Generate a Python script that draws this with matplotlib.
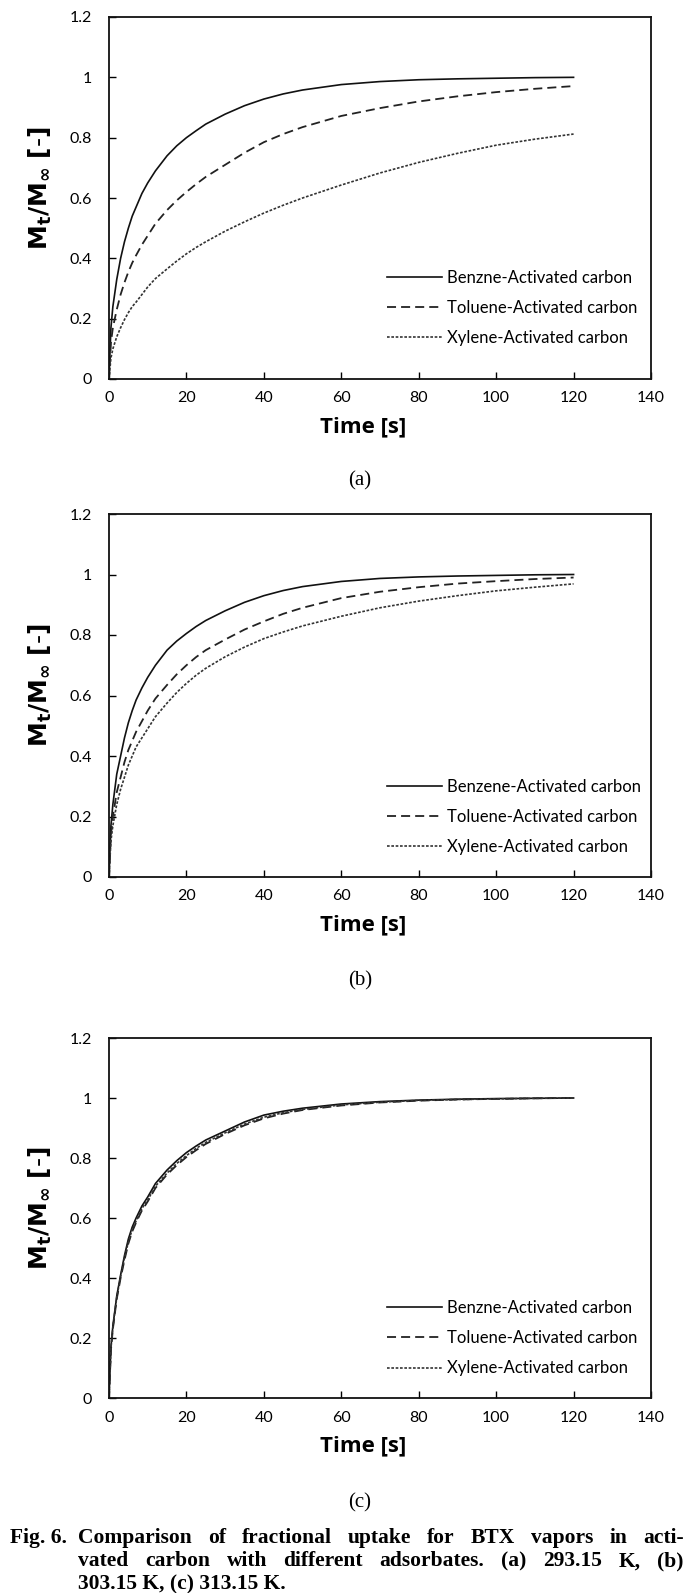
import matplotlib
matplotlib.use("Agg")
import matplotlib.pyplot as plt
from matplotlib import font_manager as fm

W, H = 694, 1593

# ---------------- data ----------------
time_s = [0, 0.5, 1, 2, 3, 4, 5, 6, 7, 8.5, 10, 12, 15, 17.5, 20, 22.5, 25, 30, 35, 40,
          45, 50, 60, 70, 80, 90, 100, 110, 120]

benzene_a = [0, 0.17, 0.24, 0.33, 0.40, 0.455, 0.50, 0.54, 0.57, 0.615, 0.65, 0.69, 0.74, 0.773,
             0.80, 0.823, 0.845, 0.878, 0.906, 0.928, 0.945, 0.958, 0.976, 0.986, 0.992, 0.995,
             0.997, 0.999, 1.0]
toluene_a = [0, 0.12, 0.17, 0.23, 0.28, 0.32, 0.355, 0.385, 0.41, 0.445, 0.475, 0.515, 0.56, 0.592,
             0.62, 0.646, 0.67, 0.71, 0.75, 0.785, 0.812, 0.835, 0.872, 0.898, 0.92, 0.937,
             0.951, 0.962, 0.971]
xylene_a = [0, 0.07, 0.10, 0.14, 0.17, 0.197, 0.22, 0.24, 0.255, 0.28, 0.305, 0.333, 0.365, 0.391,
            0.415, 0.436, 0.455, 0.49, 0.521, 0.55, 0.576, 0.60, 0.643, 0.683, 0.718, 0.748,
            0.775, 0.795, 0.812]

benzene_b = [0, 0.17, 0.24, 0.34, 0.40, 0.46, 0.51, 0.55, 0.585, 0.625, 0.66, 0.70, 0.75, 0.78,
             0.805, 0.828, 0.848, 0.88, 0.908, 0.93, 0.947, 0.96, 0.977, 0.987, 0.992, 0.995,
             0.997, 0.999, 1.0]
toluene_b = [0, 0.14, 0.20, 0.28, 0.33, 0.38, 0.42, 0.45, 0.48, 0.515, 0.55, 0.59, 0.635, 0.67,
             0.70, 0.727, 0.75, 0.785, 0.818, 0.845, 0.87, 0.89, 0.922, 0.943, 0.958, 0.97,
             0.978, 0.985, 0.99]
xylene_b = [0, 0.12, 0.17, 0.24, 0.29, 0.33, 0.37, 0.40, 0.43, 0.46, 0.49, 0.53, 0.575, 0.61,
            0.64, 0.667, 0.69, 0.728, 0.76, 0.788, 0.81, 0.83, 0.862, 0.89, 0.912, 0.93,
            0.946, 0.958, 0.969]

benzene_c = [0, 0.17, 0.24, 0.34, 0.41, 0.475, 0.53, 0.57, 0.60, 0.64, 0.67, 0.715, 0.76, 0.791,
             0.818, 0.84, 0.86, 0.89, 0.92, 0.943, 0.956, 0.966, 0.98, 0.988, 0.993, 0.996,
             0.998, 0.999, 1.0]
toluene_c = [0, 0.16, 0.23, 0.33, 0.40, 0.46, 0.515, 0.555, 0.585, 0.625, 0.655, 0.70, 0.745, 0.776,
             0.803, 0.826, 0.847, 0.88, 0.909, 0.932, 0.948, 0.96, 0.975, 0.985, 0.991, 0.995,
             0.997, 0.999, 1.0]
xylene_c = [0, 0.165, 0.235, 0.335, 0.405, 0.467, 0.52, 0.562, 0.59, 0.632, 0.66, 0.706, 0.75, 0.782,
            0.808, 0.832, 0.852, 0.884, 0.913, 0.936, 0.951, 0.962, 0.977, 0.986, 0.992, 0.995,
            0.997, 0.999, 1.0]

labels_a = ["Benzne-Activated carbon", "Toluene-Activated carbon", "Xylene-Activated carbon"]
labels_b = ["Benzene-Activated carbon", "Toluene-Activated carbon", "Xylene-Activated carbon"]
labels_c = ["Benzne-Activated carbon", "Toluene-Activated carbon", "Xylene-Activated carbon"]

x_ticks = [0, 20, 40, 60, 80, 100, 120, 140]
y_ticks = [0, 0.2, 0.4, 0.6, 0.8, 1.0, 1.2]
y_tick_labels = ["0", "0.2", "0.4", "0.6", "0.8", "1", "1.2"]
panel_tags = ["(a)", "(b)", "(c)"]

caption_head = "Fig. 6."
caption_lines = [
    "Comparison of fractional uptake for BTX vapors in acti-",
    "vated carbon with different adsorbates. (a) 293.15 K, (b)",
    "303.15 K, (c) 313.15 K.",
]


# ---------------- fonts ----------------
def pick(cands):
    for c in cands:
        try:
            fm.findfont(fm.FontProperties(family=c), fallback_to_default=False)
            return c
        except Exception:
            pass
    return "DejaVu Sans"

narrow = pick(["Lato", "Open Sans", "Liberation Sans"])
boldsans = pick(["Open Sans", "Lato", "DejaVu Sans"])
serif = pick(["Liberation Serif", "DejaVu Serif"])
plt.rcParams["mathtext.fontset"] = "dejavusans"

fig = plt.figure(figsize=(W / 100, H / 100), dpi=100)


def fx(px):
    return px / W


def fy(py):
    return 1 - py / H


# axes pixel boxes (left, top, right, bottom)
boxes = [(109, 17, 651, 379), (109, 514, 651, 877), (109, 1038, 651, 1398)]
series = [
    (benzene_a, toluene_a, xylene_a, labels_a),
    (benzene_b, toluene_b, xylene_b, labels_b),
    (benzene_c, toluene_c, xylene_c, labels_c),
]
legend_y = [0.196, 0.166, 0.166]
tag_y = [481, 981, 1503]

styles = [
    dict(color="#111111", lw=1.2, linestyle="-"),
    dict(color="#222222", lw=1.3, linestyle=(0, (5, 2.8))),
    dict(color="#333333", lw=1.2, linestyle=(0, (1.6, 1.0))),
]

for i, ((l, t, r, b), (s1, s2, s3, labs)) in enumerate(zip(boxes, series)):
    ax = fig.add_axes([fx(l), fy(b), fx(r - l), (b - t) / H])
    handles = []
    for data, st, lab in zip((s1, s2, s3), styles, labs):
        h, = ax.plot(time_s, data, label=lab, **st)
        handles.append(h)
    ax.set_xlim(0, 140)
    ax.set_ylim(0, 1.2)
    ax.set_xticks(x_ticks)
    ax.set_yticks(y_ticks)
    ax.set_yticklabels(y_tick_labels)
    ax.tick_params(direction="in", length=5, width=1.0, labelsize=11.5)
    ax.tick_params(axis="y", pad=12)
    ax.tick_params(axis="x", pad=9)
    for lab in ax.get_xticklabels() + ax.get_yticklabels():
        lab.set_family(narrow)
    for sp in ax.spines.values():
        sp.set_linewidth(1.3)
        sp.set_color("#111111")
    ax.set_xlabel("Time [s]", fontsize=16, fontweight="bold", family=boldsans)
    ax.xaxis.set_label_coords(0.469, -0.104)
    ax.set_ylabel(r"$\mathbf{M_t/M_{\infty}}$ $\mathbf{[\text{-}]}$", fontsize=18)
    ax.yaxis.set_label_coords(-0.102, 0.527)
    ax.legend(handles=handles, loc="center left", bbox_to_anchor=(0.512, legend_y[i]),
              frameon=False, prop=dict(family=narrow, size=12),
              handlelength=3.3, handletextpad=0.35, labelspacing=0.85,
              borderpad=0, borderaxespad=0)
    fig.text(fx(360), fy(tag_y[i]), panel_tags[i], ha="center", va="center",
             family=serif, fontsize=15)

# ---------------- caption (justified) ----------------
cap_size = 15.5
cap_base = [1543, 1566.5, 1589]
x_left, x_right = 78, 684
fig.text(fx(10), fy(cap_base[0]), caption_head, ha="left", va="baseline",
         family=serif, fontweight="bold", fontsize=cap_size)
fig.canvas.draw()
renderer = fig.canvas.get_renderer()
for j, line in enumerate(caption_lines):
    words = line.split(" ")
    if j < 2:
        widths = []
        for w in words:
            tt = fig.text(0, 0, w, family=serif, fontweight="bold", fontsize=cap_size)
            widths.append(tt.get_window_extent(renderer).width)
            tt.remove()
        gap = (x_right - x_left - sum(widths)) / (len(words) - 1)
        x = x_left
        for w, wd in zip(words, widths):
            fig.text(fx(x), fy(cap_base[j]), w, ha="left", va="baseline",
                     family=serif, fontweight="bold", fontsize=cap_size)
            x += wd + gap
    else:
        fig.text(fx(x_left), fy(cap_base[j]), line, ha="left", va="baseline",
                 family=serif, fontweight="bold", fontsize=cap_size)

fig.savefig("out.png", dpi=100)
